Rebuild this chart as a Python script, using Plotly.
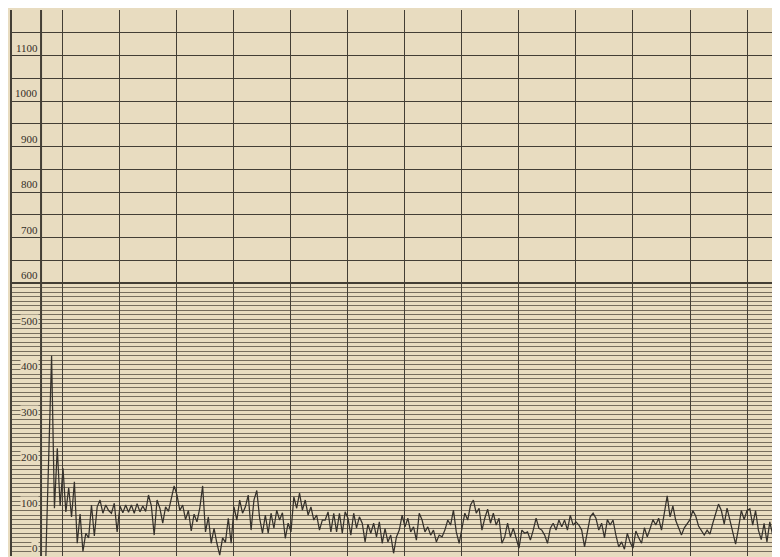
import plotly.graph_objects as go

# ---- data (one value per period, 20 periods per ruled column) ----
values = [
    0, 200, 440, 105, 237, 110, 193, 97, 150, 86,
    163, 28, 92, 10, 50, 40, 112, 44, 108, 123,
    94, 112, 100, 94, 116, 53, 110, 95, 112, 96,
    112, 94, 115, 97, 110, 98, 134, 110, 46, 123,
    105, 72, 108, 98, 130, 154, 134, 100, 112, 80,
    100, 55, 92, 75, 105, 154, 53, 86, 28, 61,
    28, 2, 40, 30, 83, 28, 108, 79, 123, 94,
    108, 134, 57, 123, 144, 83, 50, 90, 50, 94,
    61, 101, 79, 95, 39, 72, 53, 130, 105, 138,
    101, 123, 90, 108, 79, 90, 57, 79, 79, 97,
    53, 94, 53, 94, 50, 97, 83, 46, 94, 62,
    86, 72, 31, 70, 50, 72, 42, 75, 28, 60,
    31, 46, 6, 42, 57, 90, 64, 83, 53, 64,
    35, 94, 79, 53, 64, 46, 57, 31, 46, 42,
    57, 79, 68, 101, 53, 28, 61, 94, 79, 112,
    123, 94, 105, 57, 83, 103, 72, 94, 68, 83,
    28, 42, 72, 42, 61, 39, 17, 57, 50, 53,
    35, 57, 83, 61, 57, 46, 28, 61, 72, 57,
    79, 64, 79, 57, 90, 68, 75, 68, 57, 20,
    53, 86, 94, 83, 57, 72, 40, 80, 68, 79,
    46, 20, 31, 15, 50, 30, 17, 55, 40, 28,
    62, 42, 60, 80, 68, 83, 57, 100, 132, 86,
    110, 78, 60, 46, 62, 72, 80, 100, 88, 66,
    55, 46, 57, 48, 72, 95, 114, 100, 70, 105,
    79, 50, 26, 60, 100, 80, 100, 104, 68, 100,
    57, 36, 72, 31, 75, 46, 20, 2,
]
periods = list(range(len(values)))

y_label_values = [0, 100, 200, 300, 400, 500, 600, 700, 800, 900, 1000, 1100]
y_label_text = [str(v) for v in y_label_values]

upper_rules = list(range(600, 1201, 50))      # coarse ruling above 600
lower_rules = list(range(0, 600, 10))         # fine ruling below 600
label_col_edge = -1.7                          # divider of the label column
column_rules = [label_col_edge] + list(range(6, 258, 20))

BG = "#e8dcc0"
INK = "#433e35"

fig = go.Figure()
fig.add_trace(go.Scatter(
    x=periods, y=values, mode="lines",
    line=dict(color="#35312b", width=1.25),
    hoverinfo="skip", showlegend=False,
))

# heavy rule at 600 separating the two rulings
fig.add_shape(type="line", xref="paper", x0=0, x1=1, yref="y", y0=600, y1=600,
              line=dict(color=INK, width=2.2), layer="above")
# heavier divider of the label column
fig.add_shape(type="line", xref="x", x0=label_col_edge, x1=label_col_edge,
              yref="paper", y0=0, y1=1, line=dict(color=INK, width=2), layer="below")

annotations = []
for v, t in zip(y_label_values, y_label_text):
    annotations.append(dict(
        x=-2.3, y=v, xref="x", yref="y", text=t, showarrow=False,
        xanchor="right", yanchor="bottom", yshift=1,
        font=dict(family="Liberation Serif, DejaVu Serif, serif", size=11, color="#332e27"),
        bgcolor=BG if v < 600 else None, borderpad=0,
    ))

fig.update_layout(
    width=772, height=549,
    margin=dict(l=4, r=0, t=2, b=1),
    paper_bgcolor=BG, plot_bgcolor=BG,
    showlegend=False,
    annotations=annotations,
    xaxis=dict(
        range=[-11.89, 257.58], tickmode="array", tickvals=column_rules,
        showticklabels=False, ticks="", showgrid=True,
        gridcolor=INK, gridwidth=1.3, zeroline=False, showline=False,
        fixedrange=True,
    ),
    yaxis=dict(
        range=[0, 1200], tickmode="array", tickvals=upper_rules,
        showticklabels=False, ticks="", showgrid=True,
        gridcolor=INK, gridwidth=1.3, zeroline=False,
        showline=True, linecolor=INK, linewidth=1.6,
        minor=dict(tickmode="array", tickvals=lower_rules, showgrid=True,
                   gridcolor="rgba(80,72,60,0.75)", gridwidth=0.9, ticks=""),
        fixedrange=True,
    ),
)

fig.write_html("out.html")
